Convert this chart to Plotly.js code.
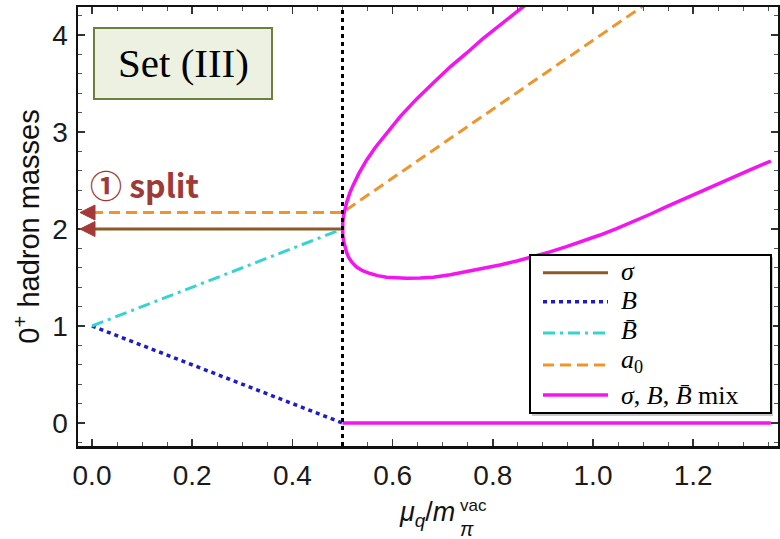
<!DOCTYPE html>
<html><head><meta charset="utf-8">
<script src="https://cdn.plot.ly/plotly-3.0.1.min.js"></script>
<style>html,body{margin:0;padding:0;background:#fff}#chart{width:780px;height:539px}</style>
</head><body><div id="chart"></div>
<script>
// ---- data ----
const sigmaX = [0, 0.5];
const sigmaY = [2, 2];
const bX = [0, 0.5];
const bY = [1, 0];
const bbarX = [0, 0.5];
const bbarY = [1, 2];
const a0X = [0, 0.5, 1.10];
const a0Y = [2.17, 2.17, 4.30];
const mixX = [0.870, 0.814, 0.781, 0.748, 0.715, 0.681, 0.648, 0.615, 0.581, 0.565, 0.548, 0.533, 0.522,
              0.515, 0.508, 0.505, 0.502, 0.5005, 0.500,
              0.5005, 0.502, 0.505, 0.508, 0.512, 0.519, 0.528, 0.540, 0.555, 0.570, 0.588, 0.608, 0.628, 0.655,
              0.681, 0.715, 0.748, 0.781, 0.814, 0.848, 0.881, 0.914, 0.947, 0.980,
              1.014, 1.047, 1.080, 1.114, 1.147, 1.180, 1.214, 1.247, 1.280, 1.318, 1.355,
              null, 0.5, 1.355];
const mixY = [4.33, 4.104, 3.966, 3.815, 3.672, 3.505, 3.341, 3.158, 2.949, 2.838, 2.709, 2.576, 2.460,
              2.378, 2.270, 2.213, 2.133, 2.065, 2.00,
              1.94, 1.88, 1.810, 1.760, 1.710, 1.655, 1.608, 1.570, 1.541, 1.519, 1.502, 1.494, 1.492, 1.495,
              1.502, 1.528, 1.560, 1.594, 1.629, 1.670, 1.714, 1.764, 1.818, 1.876,
              1.938, 2.005, 2.075, 2.152, 2.230, 2.307, 2.385, 2.462, 2.539, 2.620, 2.701,
              null, 0, 0];
const transitionX = 0.5;
const xTickVals = [0, 0.2, 0.4, 0.6, 0.8, 1.0, 1.2];
const xTickText = ['0.0', '0.2', '0.4', '0.6', '0.8', '1.0', '1.2'];
const yTickVals = [0, 1, 2, 3, 4];
const yTickText = ['0', '1', '2', '3', '4'];
const seriesNames = ['<i>σ</i>', '<i>B</i>', '<i>B\u0304</i>', '<i>a</i><sub>0</sub>', '<i>σ</i>, <i>B</i>, <i>B\u0304</i> mix'];

// ---- styles ----
const C = {sigma:'#8c5a28', b:'#1c1cc8', bbar:'#35d4d0', a0:'#f0952c', mix:'#f414f0'};
const styles = [
  {color:C.sigma, dash:'solid', width:3},
  {color:C.b, dash:'4px,4px', width:3.5},
  {color:C.bbar, dash:'12px,5px,3px,5px', width:3},
  {color:C.a0, dash:'11px,6px', width:3},
  {color:C.mix, dash:'solid', width:3.5}
];
const xs = [sigmaX, bX, bbarX, a0X, mixX];
const ys = [sigmaY, bY, bbarY, a0Y, mixY];

const traces = xs.map((x, i) => ({
  x: x, y: ys[i], type:'scatter', mode:'lines', name: seriesNames[i], showlegend:false,
  connectgaps:false, line: styles[i], hoverinfo:'skip'
}));

// pixel <-> paper helpers (plot area: x 78..778, y 7..446)
const L = 78, R = 778, T = 7, B = 446;
const X0 = 92, SX = 501, Y0 = 423, SY = 97;
const px = v => (v - L) / (R - L);
const py = v => (B - v) / (B - T);

const shapes = [];
const annotations = [];

// vertical transition line
shapes.push({type:'line', xref:'x', yref:'paper', x0:transitionX, x1:transitionX, y0:0, y1:1,
  line:{color:'#000', width:3, dash:'4px,4px'}, layer:'above'});

// Set (III) box
shapes.push({type:'rect', xref:'paper', yref:'paper', x0:px(94), x1:px(272), y0:py(99), y1:py(28),
  fillcolor:'#edf1e1', line:{color:'#6d7f3c', width:2}, layer:'above'});
annotations.push({xref:'paper', yref:'paper', x:px(183), y:py(63), xanchor:'center', yanchor:'middle',
  text:'Set (III)', showarrow:false,
  font:{family:'Liberation Serif, Times New Roman, serif', size:41, color:'#000'}});

// split label and arrowheads
annotations.push({xref:'paper', yref:'paper', x:px(144), y:py(184), xanchor:'center', yanchor:'middle',
  text:'① split', showarrow:false,
  font:{family:'Noto Sans CJK JP, Noto Sans, sans-serif', size:32, color:'#9c3b38', weight:700}});
[a0Y[0], sigmaY[0]].forEach(v => {
  const yp = Y0 - SY * v;
  const tip = 80, back = 95, half = 7.5;
  shapes.push({type:'path', xref:'paper', yref:'paper', layer:'above',
    path:`M${px(tip)},${py(yp)} L${px(back)},${py(yp - half)} L${px(back)},${py(yp + half)} Z`,
    fillcolor:'#a33a3a', line:{color:'#a33a3a', width:1}});
});

// custom legend
shapes.push({type:'rect', xref:'paper', yref:'paper', x0:px(532), x1:px(773), y0:py(416), y1:py(257),
  fillcolor:'#c8c8c8', line:{width:0}, layer:'above'});
shapes.push({type:'rect', xref:'paper', yref:'paper', x0:px(530), x1:px(771), y0:py(413), y1:py(255),
  fillcolor:'#ffffff', line:{color:'#000', width:2}, layer:'above'});
const rowY = [272.7, 301.7, 333, 365, 395];
const textY = [271, 300, 331, 361, 395];
rowY.forEach((yy, i) => {
  shapes.push({type:'line', xref:'paper', yref:'paper', x0:px(543), x1:px(608), y0:py(yy), y1:py(yy),
    line:{color:styles[i].color, width:styles[i].width, dash:styles[i].dash}, layer:'above'});
  annotations.push({xref:'paper', yref:'paper', x:px(619), y:py(textY[i]), xanchor:'left', yanchor:'middle',
    text:seriesNames[i], showarrow:false,
    font:{family:'Liberation Serif, Times New Roman, serif', size:26, color:'#000'}});
});

// x-axis title pieces
annotations.push({xref:'paper', yref:'paper', x:px(457), y:py(514), xanchor:'right', yanchor:'middle',
  text:'<i>μ</i><sub><i>q</i></sub>/<i>m</i>', showarrow:false,
  font:{family:'Liberation Sans, Arial, sans-serif', size:27, color:'#111'}});
annotations.push({xref:'paper', yref:'paper', x:px(458), y:py(505), xanchor:'left', yanchor:'middle',
  text:'vac', showarrow:false, font:{family:'Liberation Sans, Arial, sans-serif', size:17, color:'#111'}});
annotations.push({xref:'paper', yref:'paper', x:px(458), y:py(529), xanchor:'left', yanchor:'middle',
  text:'<i>π</i>', showarrow:false, font:{family:'Liberation Sans, Arial, sans-serif', size:20, color:'#111'}});

const tickFont = {family:'Liberation Sans, Arial, sans-serif', size:28, color:'#1a1a1a'};
const layout = {
  width:780, height:539,
  margin:{l:L, r:780-R, t:T, b:539-B},
  paper_bgcolor:'#fff', plot_bgcolor:'#fff',
  showlegend:false,
  xaxis:{range:[(L-X0)/SX, (R-X0)/SX], tickvals:xTickVals, ticktext:xTickText, ticks:'inside',
    ticklen:7, tickwidth:1.5, tickcolor:'#333', showline:true, linecolor:'#111', linewidth:2.5,
    mirror:'ticks', showgrid:false, zeroline:false, tickfont:tickFont, ticklabelstandoff:3,
    minor:{dtick:0.05, ticks:'inside', ticklen:4, tickwidth:1, tickcolor:'#555', showgrid:false}},
  yaxis:{range:[-(B-Y0)/SY, (Y0-T)/SY], tickvals:yTickVals, ticktext:yTickText, ticks:'inside',
    ticklen:7, tickwidth:1.5, tickcolor:'#333', showline:true, linecolor:'#111', linewidth:2.5,
    mirror:'ticks', showgrid:false, zeroline:false, tickfont:tickFont, ticklabelstandoff:2,
    minor:{dtick:0.2, ticks:'inside', ticklen:4, tickwidth:1, tickcolor:'#555', showgrid:false},
    title:{text:'0<sup>+</sup> hadron masses', standoff:4,
      font:{family:'Liberation Sans, Arial, sans-serif', size:29, color:'#111'}}},
  shapes:shapes, annotations:annotations
};
Plotly.newPlot('chart', traces, layout, {displayModeBar:false, staticPlot:true});
</script></body></html>
